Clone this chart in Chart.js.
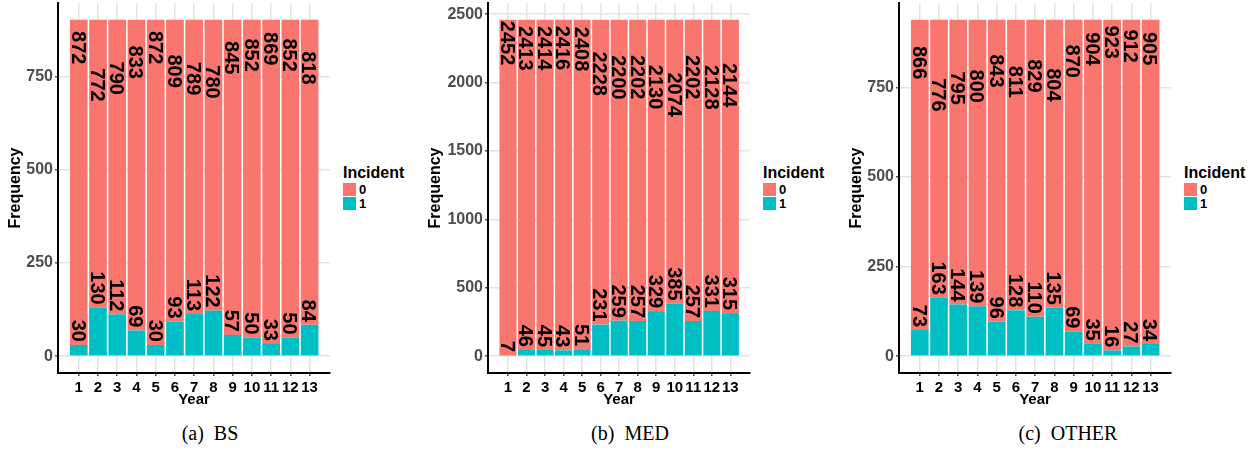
<html>
<head>
  <title>Incident frequency by year</title>
  <script src="https://cdn.jsdelivr.net/npm/chart.js"></script>
  <style>
    body { margin: 0; background: #fff; width: 1256px; height: 450px; position: relative; overflow: hidden; font-family: "Liberation Sans", Arial, sans-serif; }
    .panel { position: absolute; top: 0; height: 420px; }
    .legend { position: absolute; top: 163px; font-weight: bold; color: #000; }
    .legend .ttl { font-size: 16px; line-height: 19px; }
    .legend .row { display: flex; align-items: center; height: 14.3px; font-size: 13px; }
    .legend .box { width: 13px; height: 13px; margin-right: 3px; }
    .caption { position: absolute; top: 422px; font-family: "Liberation Serif", "Times New Roman", serif; font-size: 20px; transform: translateX(-50%); white-space: pre; }
  </style>
</head>
<body>
  <div class="panel" style="left:0;width:332px"><canvas id="bsChart" width="332" height="420"></canvas></div>
  <div class="panel" style="left:420px;width:332px"><canvas id="medChart" width="332" height="420"></canvas></div>
  <div class="panel" style="left:836px;width:337px"><canvas id="otherChart" width="337" height="420"></canvas></div>

  <div class="legend" style="left:343px"><div class="ttl">Incident</div><div class="row"><div class="box" style="background:#F8766D"></div>0</div><div class="row"><div class="box" style="background:#00BFC4"></div>1</div></div>
  <div class="legend" style="left:763px"><div class="ttl">Incident</div><div class="row"><div class="box" style="background:#F8766D"></div>0</div><div class="row"><div class="box" style="background:#00BFC4"></div>1</div></div>
  <div class="legend" style="left:1184px"><div class="ttl">Incident</div><div class="row"><div class="box" style="background:#F8766D"></div>0</div><div class="row"><div class="box" style="background:#00BFC4"></div>1</div></div>

  <div class="caption" style="left:210px">(a)  BS</div>
  <div class="caption" style="left:630px">(b)  MED</div>
  <div class="caption" style="left:1068px">(c)  OTHER</div>

  <script>
const years = [1, 2, 3, 4, 5, 6, 7, 8, 9, 10, 11, 12, 13];

const bsIncident0 = [872, 772, 790, 833, 872, 809, 789, 780, 845, 852, 869, 852, 818];
const bsIncident1 = [30, 130, 112, 69, 30, 93, 113, 122, 57, 50, 33, 50, 84];
const bsTicks = [0, 250, 500, 750];

const medIncident0 = [2452, 2413, 2414, 2416, 2408, 2228, 2200, 2202, 2130, 2074, 2202, 2128, 2144];
const medIncident1 = [7, 46, 45, 43, 51, 231, 259, 257, 329, 385, 257, 331, 315];
const medTicks = [0, 500, 1000, 1500, 2000, 2500];

const otherIncident0 = [866, 776, 795, 800, 843, 811, 829, 804, 870, 904, 923, 912, 905];
const otherIncident1 = [73, 163, 144, 139, 96, 128, 110, 135, 69, 35, 16, 27, 34];
const otherTicks = [0, 250, 500, 750];

const SALMON = '#F8766D';
const TEAL = '#00BFC4';
const FONT = '"Liberation Sans", Arial, sans-serif';

// rotated count labels, like geom_text(angle = -90)
const barLabels = {
  id: 'barLabels',
  afterDatasetsDraw(chart) {
    const ctx = chart.ctx;
    const ys = chart.scales.y;
    const size = 20;
    ctx.save();
    ctx.font = `bold ${size}px ${FONT}`;
    ctx.fillStyle = '#000';
    ctx.textBaseline = 'alphabetic';
    chart.data.datasets.forEach((ds, di) => {
      const meta = chart.getDatasetMeta(di);
      ds.data.forEach((pt, i) => {
        const cx = meta.data[i].x;
        ctx.save();
        if (ds.label === '0') {
          ctx.translate(cx, ys.getPixelForValue(pt.y));
          ctx.rotate(Math.PI / 2);
          ctx.textAlign = 'left';
        } else {
          ctx.translate(cx, ys.getPixelForValue(pt.y) - 3);
          ctx.rotate(Math.PI / 2);
          ctx.textAlign = 'right';
        }
        ctx.fillText(String(pt.y), 0, size * 0.36);
        ctx.restore();
      });
    });
    ctx.restore();
  }
};

function makeChart(id, inc0, inc1, tickVals, yWidth, titlePad) {
  const totals = inc0.map((v, i) => v + inc1[i]);
  const top = Math.max(...totals);
  return new Chart(document.getElementById(id), {
    type: 'bar',
    data: {
      datasets: [
        { label: '1', data: years.map((x, i) => ({ x: x, y: inc1[i] })), backgroundColor: TEAL },
        { label: '0', data: years.map((x, i) => ({ x: x, y: inc0[i] })), backgroundColor: SALMON }
      ]
    },
    options: {
      responsive: false,
      animation: false,
      events: [],
      barPercentage: 0.92,
      categoryPercentage: 1,
      layout: { padding: { top: 3, right: 2, bottom: 0, left: 0 } },
      plugins: { legend: { display: false }, tooltip: { enabled: false } },
      scales: {
        x: {
          type: 'linear', stacked: true, offset: false, min: -0.08, max: 14.06,
          afterBuildTicks: s => { s.ticks = years.map(v => ({ value: v })); },
          afterFit: s => { s.height = 47; s.paddingLeft = 0; s.paddingRight = 0; },
          ticks: { autoSkip: false, maxRotation: 0, padding: 3, color: '#000', font: { family: FONT, size: 15, weight: 'bold' }, callback: v => String(v) },
          grid: { offset: false, color: '#e3e3e3', lineWidth: 1.5, tickLength: 3, tickColor: '#555' },
          border: { display: true, color: '#000', width: 2 },
          title: { display: true, text: 'Year', color: '#000', padding: { top: 0, bottom: 11 }, font: { family: FONT, size: 15, weight: 'bold' } }
        },
        y: {
          stacked: true, min: -0.05 * top, max: 1.05 * top,
          afterBuildTicks: s => { s.ticks = tickVals.map(v => ({ value: v })); },
          afterFit: s => { s.width = yWidth; s.paddingTop = 0; s.paddingBottom = 0; },
          ticks: { padding: 2, color: '#4d4d4d', font: { family: FONT, size: 16, weight: 'bold' }, callback: v => String(v) },
          grid: { color: '#e3e3e3', lineWidth: 1.5, tickLength: 3, tickColor: '#555' },
          border: { display: true, color: '#000', width: 2 },
          title: { display: true, text: 'Frequency', color: '#000', padding: { top: titlePad, bottom: 0 }, font: { family: FONT, size: 16, weight: 'bold' } }
        }
      }
    },
    plugins: [barLabels]
  });
}

makeChart('bsChart', bsIncident0, bsIncident1, bsTicks, 58, 6.4);
makeChart('medChart', medIncident0, medIncident1, medTicks, 68, 6.4);
makeChart('otherChart', otherIncident0, otherIncident1, otherTicks, 63, 11);
  </script>
</body>
</html>
